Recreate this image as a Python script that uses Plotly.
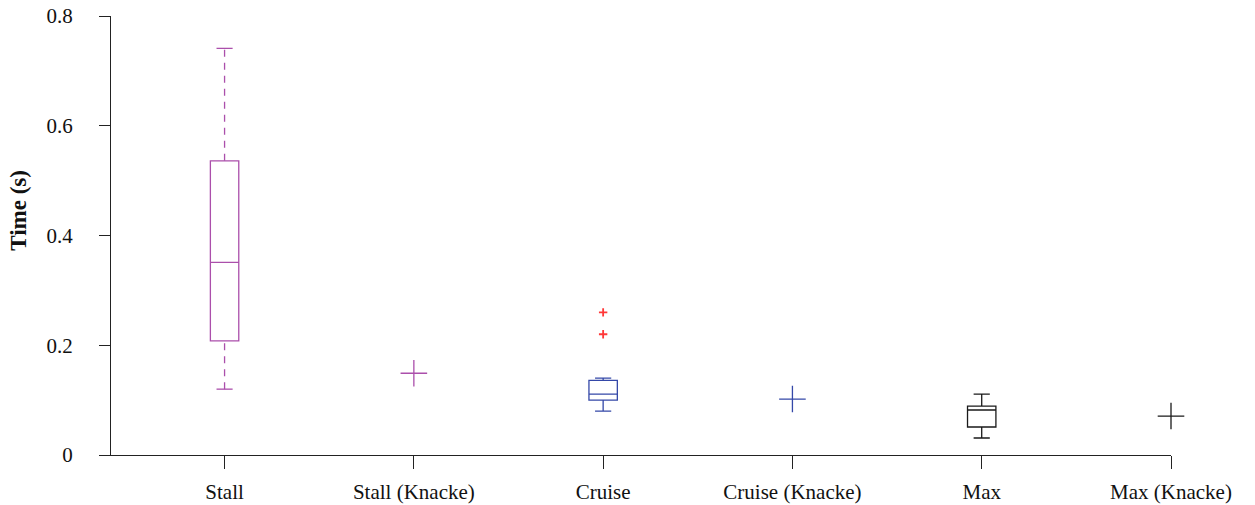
import plotly.graph_objects as go

categories = ["Stall", "Stall (Knacke)", "Cruise", "Cruise (Knacke)", "Max", "Max (Knacke)"]

# Box statistics
stall_stats = dict(q1=0.208, median=0.351, q3=0.536, lower=0.12, upper=0.741)
cruise_stats = dict(q1=0.100, median=0.111, q3=0.136, lower=0.080, upper=0.140)
max_stats = dict(q1=0.051, median=0.082, q3=0.089, lower=0.031, upper=0.111)
cruise_outliers = [0.26, 0.22]

# Knacke single values
knacke_values = [0.149, 0.102, 0.071]
knacke_cats = ["Stall (Knacke)", "Cruise (Knacke)", "Max (Knacke)"]

y_ticks = [0, 0.2, 0.4, 0.6, 0.8]
y_ticktext = ["0", "0.2", "0.4", "0.6", "0.8"]

MAGENTA = "#ab4fab"
BLUE = "#3448a8"
BLACK = "#1a1a1a"
RED = "#ff3838"

fig = go.Figure()

box_common = dict(width=0.15, whiskerwidth=0.57, fillcolor="rgba(0,0,0,0)",
                  boxpoints=False, showlegend=False, hoverinfo="skip")

# Stall box (box only; dashed whiskers drawn separately)
s = stall_stats
fig.add_trace(go.Box(x=["Stall"], q1=[s["q1"]], median=[s["median"]], q3=[s["q3"]],
                     lowerfence=[s["q1"]], upperfence=[s["q3"]],
                     line=dict(color=MAGENTA, width=1.3), **box_common))
for lo, hi in [(s["q3"], s["upper"]), (s["lower"], s["q1"])]:
    fig.add_trace(go.Scatter(x=["Stall", "Stall"], y=[lo, hi], mode="lines",
                             line=dict(color=MAGENTA, width=1.3, dash="7px,6px"),
                             showlegend=False, hoverinfo="skip", cliponaxis=False))
fig.add_trace(go.Scatter(x=["Stall", "Stall"], y=[s["upper"], s["lower"]], mode="markers",
                         marker=dict(symbol="line-ew", size=11.5, color=MAGENTA,
                                     line=dict(color=MAGENTA, width=1.3)),
                         showlegend=False, hoverinfo="skip", cliponaxis=False))

# Cruise box
c = cruise_stats
fig.add_trace(go.Box(x=["Cruise"], q1=[c["q1"]], median=[c["median"]], q3=[c["q3"]],
                     lowerfence=[c["lower"]], upperfence=[c["upper"]],
                     line=dict(color=BLUE, width=1.3), **box_common))
fig.add_trace(go.Scatter(x=["Cruise"] * len(cruise_outliers), y=cruise_outliers, mode="markers",
                         marker=dict(symbol="cross-thin", size=6, color=RED,
                                     line=dict(color=RED, width=1.8)),
                         showlegend=False, hoverinfo="skip", cliponaxis=False))

# Max box
m = max_stats
fig.add_trace(go.Box(x=["Max"], q1=[m["q1"]], median=[m["median"]], q3=[m["q3"]],
                     lowerfence=[m["lower"]], upperfence=[m["upper"]],
                     line=dict(color=BLACK, width=1.3), **box_common))

# Knacke markers
for cat, val, col in zip(knacke_cats, knacke_values, [MAGENTA, BLUE, BLACK]):
    fig.add_trace(go.Scatter(x=[cat], y=[val], mode="markers",
                             marker=dict(symbol="cross-thin", size=19, color=col,
                                         line=dict(color=col, width=1.3)),
                             showlegend=False, hoverinfo="skip", cliponaxis=False))

FONT = "Liberation Serif"

fig.update_layout(
    width=1255, height=505,
    margin=dict(l=111, r=84, t=16, b=50, autoexpand=False),
    paper_bgcolor="white", plot_bgcolor="white",
    font=dict(family=FONT, size=21, color="#111"),
    showlegend=False,
    xaxis=dict(type="category", categoryorder="array", categoryarray=categories,
               range=[-0.6, 5], showgrid=False, zeroline=False,
               showline=True, linecolor="#222", linewidth=1,
               ticks="outside", ticklen=13, tickcolor="#222", tickwidth=1,
               ticklabelstandoff=5, tickfont=dict(family=FONT, size=21)),
    yaxis=dict(range=[0, 0.8], tickvals=y_ticks, ticktext=y_ticktext,
               showgrid=False, zeroline=False,
               showline=True, linecolor="#222", linewidth=1,
               ticks="outside", ticklen=11, tickcolor="#222", tickwidth=1,
               ticklabelstandoff=22, tickfont=dict(family=FONT, size=21)),
    annotations=[dict(text="<b>Time (s)</b>", xref="paper", yref="paper",
                      x=-0.088, y=0.558, xanchor="center", yanchor="middle",
                      textangle=-90, showarrow=False,
                      font=dict(family=FONT, size=23, color="#111"))],
)

fig.write_html("out.html", config={"displayModeBar": False},
               post_script="document.body.style.margin='0';document.body.style.overflow='hidden';")
